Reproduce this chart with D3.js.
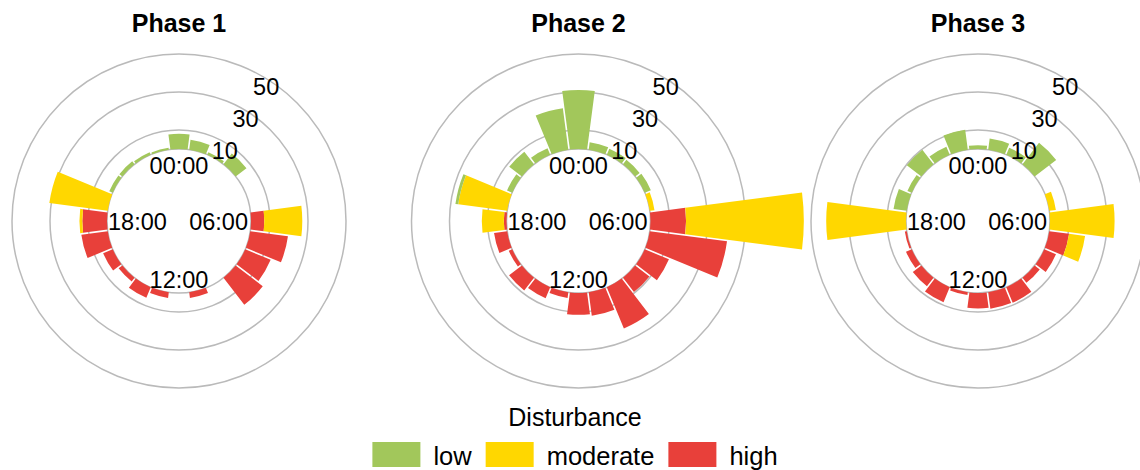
<!DOCTYPE html>
<html>
<head>
<meta charset="utf-8">
<script src="https://cdn.jsdelivr.net/npm/d3@7"></script>
<style>
  body { margin: 0; background: #fff; }
  svg { font-family: "Liberation Sans", Arial, sans-serif; }
</style>
</head>
<body>
<svg id="chart" width="1140" height="470"></svg>
<script>
// hours of the day, one bar each
var hours = d3.range(24);
var hourLabels = ["00:00", "06:00", "12:00", "18:00"];
var radialTicks = [10, 30, 50];
var phases = ["Phase 1", "Phase 2", "Phase 3"];
var levels = ["low", "moderate", "high"];
var levelColors = ["#a2c75b", "#ffd700", "#e8403a"];

// values by hour (0..23)
var phase1Low  = [8, 5.3, 1.5, 7.2, 0, 0, 0, 0, 0, 0, 0, 0, 0, 0, 0, 0, 0, 0, 0, 0, 2, 2, 1.5, 1];
var phase1Mod  = [0, 0, 0, 0, 0, 0, 20, 0, 0, 0, 0, 0, 0, 0, 0, 0, 0, 0, 1.5, 31, 0, 0, 0, 0];
var phase1High = [0, 0, 0, 0, 0, 0, 7, 20, 14.5, 18, 0, 3, 0, 3, 6, 2.5, 5.5, 14, 13, 0, 0, 0, 0, 0];

var phase2Low  = [31, 4, 3.5, 3, 3.5, 0, 0, 0, 0, 0, 0, 0, 0, 0, 0, 0, 0, 0, 0, 1.5, 3, 8.4, 3.7, 22];
var phase2Mod  = [0, 0, 0, 0, 0, 2.5, 62, 0, 0, 0, 0, 0, 0, 0, 0, 0, 0, 0, 11.6, 26, 0, 0, 0, 0];
var phase2High = [0, 0, 0, 0, 0, 0, 18.7, 41, 13.8, 9.5, 23.5, 12.5, 11.5, 3, 6.3, 8.5, 2, 7, 1.4, 0, 0, 0, 0, 0];

var phase3Low  = [2, 6, 4, 14.3, 0, 0, 0, 0, 0, 0, 0, 0, 0, 0, 0, 0, 0, 0, 0, 7, 2.5, 9.7, 4.6, 10.6];
var phase3Mod  = [0, 0, 0, 0, 0, 3.5, 34, 8.5, 0, 0, 0, 0, 0, 0, 0, 0, 0, 0, 42, 0, 0, 0, 0, 0];
var phase3High = [0, 0, 0, 0, 0, 0, 0, 10.5, 6.7, 3.4, 8.8, 8.7, 8.1, 1.5, 8.5, 5.7, 3.3, 1, 0, 0, 0, 0, 0, 0];

var phaseData = [
    [phase1Low, phase1Mod, phase1High],
    [phase2Low, phase2Mod, phase2High],
    [phase3Low, phase3Mod, phase3High]
];

var svg = d3.select("#chart");
var centers = [179, 578.5, 978];
var cy = 221;

var r = d3.scaleLinear().domain([0, 50]).range([72, 167]);
var x = d3.scaleBand().domain(hours)
    .range([-Math.PI / 24, 2 * Math.PI - Math.PI / 24]);
var color = d3.scaleOrdinal().domain(levels).range(levelColors);

// high sits at the centre, low on the outside
var stack = d3.stack().keys(["high", "moderate", "low"]);

var arc = d3.arc()
    .innerRadius(function(d) { return r(d[0]); })
    .outerRadius(function(d) { return r(d[1]); })
    .startAngle(function(d) { return x(d.data.hour); })
    .endAngle(function(d) { return x(d.data.hour) + x.bandwidth(); })
    .padAngle(0.016)
    .padRadius(100);

phases.forEach(function(name, i) {
    var rows = hours.map(function(h) {
        return {hour: h, low: phaseData[i][0][h], moderate: phaseData[i][1][h], high: phaseData[i][2][h]};
    });
    var series = stack(rows);

    var g = svg.append("g")
        .attr("transform", "translate(" + centers[i] + "," + cy + ")");

    // grid circles
    g.selectAll("circle.grid")
        .data([0].concat(radialTicks))
        .enter()
        .append("circle")
        .attr("class", "grid")
        .attr("r", function(d) { return r(d); })
        .attr("fill", "none")
        .attr("stroke", "#bababa")
        .attr("stroke-width", 1.5);

    // bars
    g.selectAll("g.layer")
        .data(series)
        .enter()
        .append("g")
        .attr("class", "layer")
        .attr("fill", function(d) { return color(d.key); })
        .selectAll("path")
        .data(function(d) { return d.filter(function(s) { return s[1] - s[0] > 0; }); })
        .enter()
        .append("path")
        .attr("d", arc);

    // radial tick labels
    var ta = 33 * Math.PI / 180;
    g.selectAll("text.rtick")
        .data(radialTicks)
        .enter()
        .append("text")
        .attr("class", "rtick")
        .attr("x", function(d) { return (r(d) - 7) * Math.sin(ta); })
        .attr("y", function(d) { return -(r(d) - 7) * Math.cos(ta); })
        .attr("dy", "0.36em")
        .attr("text-anchor", "middle")
        .attr("font-size", "23.5px")
        .text(function(d) { return d; });

    // hour labels inside the hole
    g.selectAll("text.hour")
        .data(hourLabels)
        .enter()
        .append("text")
        .attr("class", "hour")
        .attr("x", function(d, j) { return j == 1 ? 69 : (j == 3 ? -71 : 0); })
        .attr("y", function(d, j) { return j == 0 ? -47 : (j == 2 ? 67 : 9); })
        .attr("text-anchor", function(d, j) { return j == 1 ? "end" : (j == 3 ? "start" : "middle"); })
        .attr("font-size", "23.5px")
        .text(function(d) { return d; });

    svg.append("text")
        .attr("x", centers[i])
        .attr("y", 32)
        .attr("text-anchor", "middle")
        .attr("font-weight", "bold")
        .attr("font-size", "25px")
        .text(name);
});

// legend
svg.append("text")
    .attr("x", 575)
    .attr("y", 426)
    .attr("text-anchor", "middle")
    .attr("font-size", "25px")
    .text("Disturbance");

var legend = svg.append("g");
var lx = 0;
levels.forEach(function(lv) {
    legend.append("rect")
        .attr("x", lx).attr("y", 442)
        .attr("width", 48).attr("height", 25)
        .attr("fill", color(lv));
    var t = legend.append("text")
        .attr("x", lx + 61).attr("y", 465)
        .attr("font-size", "25.5px")
        .text(lv);
    lx += 61 + t.node().getComputedTextLength() + 14;
});
lx -= 14;
legend.attr("transform", "translate(" + (575 - lx / 2) + ",0)");
</script>
</body>
</html>
